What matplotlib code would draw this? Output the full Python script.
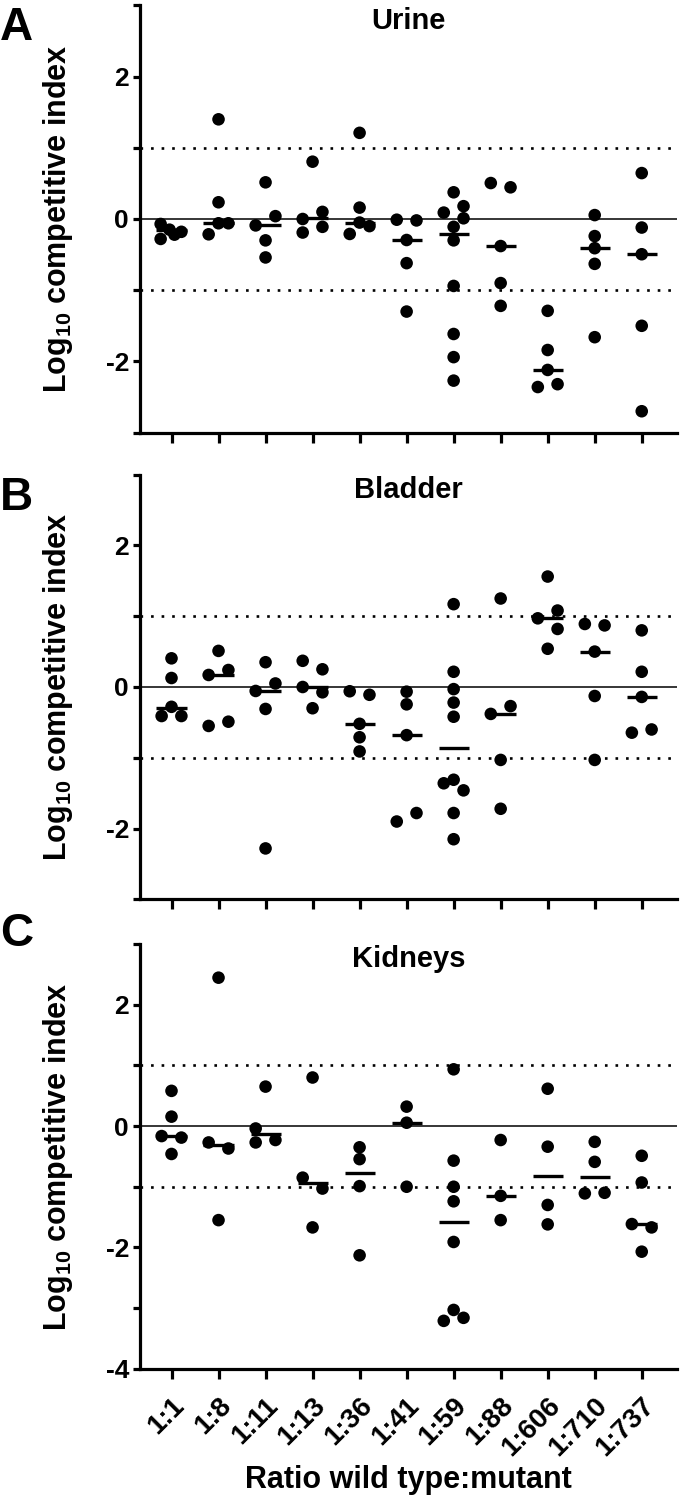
import numpy as np
import matplotlib
matplotlib.use("Agg")
import matplotlib.pyplot as plt

#----Data----

ratios = ["1:1", "1:8", "1:11", "1:13", "1:36", "1:41", "1:59", "1:88", "1:606", "1:710", "1:737"]

urine_vals = [
    [-0.07, -0.28, -0.15, -0.22, -0.18],
    [-0.215, 1.40, 0.235, -0.06, -0.06],
    [-0.09, 0.515, 0.04, -0.30, -0.54],
    [0.0, -0.19, 0.805, 0.10, -0.11],
    [-0.21, 1.21, 0.16, -0.05, -0.10],
    [-0.01, -0.02, -0.295, -0.62, -1.30],
    [0.09, 0.375, 0.18, 0.01, -0.11, -0.30, -0.94, -1.615, -1.94, -2.27],
    [0.505, 0.445, -0.38, -0.90, -1.22],
    [-1.29, -1.84, -2.12, -2.36, -2.32],
    [0.055, -0.24, -0.41, -0.63, -1.66],
    [0.645, -0.12, -0.495, -1.50, -2.70],
]
urine_medians = [-0.16, -0.05, -0.085, 0.01, -0.05, -0.295, -0.205, -0.375, -2.12, -0.41, -0.495]

bladder_vals = [
    [0.405, 0.127, -0.28, -0.41, -0.41],
    [0.51, 0.17, 0.24, -0.55, -0.49],
    [0.35, 0.05, -0.056, -0.31, -2.28],
    [0.37, 0.25, 0.0, -0.075, -0.30],
    [-0.06, -0.11, -0.52, -0.71, -0.91],
    [-0.066, -0.245, -0.68, -1.90, -1.78],
    [1.17, 0.215, -0.03, -0.22, -0.42, -1.36, -1.31, -1.46, -1.78, -2.15],
    [1.25, -0.38, -0.27, -1.03, -1.72],
    [1.56, 1.08, 0.97, 0.82, 0.54],
    [0.89, 0.87, 0.50, -0.127, -1.03],
    [0.80, 0.215, -0.14, -0.645, -0.60],
]
bladder_medians = [-0.29, 0.17, -0.05, 0.0, -0.52, -0.68, -0.865, -0.38, 0.97, 0.50, -0.14]

kidney_vals = [
    [0.58, 0.155, -0.165, -0.19, -0.46],
    [2.445, -0.27, -0.37, -1.55],
    [0.65, -0.04, -0.27, -0.23],
    [0.80, -0.85, -1.03, -1.67],
    [-0.35, -0.545, -0.99, -2.13],
    [0.32, 0.055, -1.0],
    [0.935, -0.57, -1.0, -1.24, -1.91, -3.03, -3.21, -3.16],
    [-0.23, -1.15, -1.55],
    [0.615, -0.34, -1.30, -1.62],
    [-0.26, -0.59, -1.11, -1.10],
    [-0.49, -0.93, -1.615, -1.67, -2.07],
]
kidney_medians = [-0.165, -0.32, -0.135, -0.94, -0.77, 0.055, -1.58, -1.15, -0.82, -0.845, -1.615]

# scatter slot of each point (-1 left, 0 centre, 1 right)
urine_slots = [
    [-1.1, -1.1, -0.2, 0.3, 1], [-1, 0, 0, 0, 1], [-1, 0, 1, 0, 0], [-1, -1, 0, 1, 1],
    [-1, 0, 0, 0, 1], [-1, 1, 0, 0, 0], [-1, 0, 1, 1, 0, 0, 0, 0, 0, 0], [-1, 1, 0, 0, 0],
    [0, 0, 0, -1, 1], [0, 0, 0, 0, 0], [0, 0, 0, 0, 0],
]
bladder_slots = [
    [0, 0, 0, -1, 1], [0, -1, 1, -1, 1], [0, 1, -1, 0, 0], [-1, 1, -1, 1, 0],
    [-1, 1, 0, 0, 0], [0, 0, 0, -1, 1], [0, 0, 0, 0, 0, -1, 0, 1, 0, 0], [0, -1, 1, 0, 0],
    [0, 1, -1, 1, 0], [-1, 1, 0, 0, 0], [0, 0, 0, -1, 1],
]
kidney_slots = [
    [0, 0, -1, 1, 0], [0, -1, 1, 0], [0, -1, -1, 1], [0, -1, 1, 0],
    [0, 0, 0, 0], [0, 0, 0], [0, 0, 0, 0, 0, 0, -1, 1], [0, 0, 0],
    [0, 0, 0, 0], [0, 0, -1, 1], [0, 0, -1, 1, 0],
]

#----Style----

plt.rcParams["font.family"] = ["Liberation Sans", "DejaVu Sans"]
plt.rcParams["font.weight"] = "bold"
plt.rcParams["mathtext.fontset"] = "custom"
plt.rcParams["mathtext.bf"] = "Liberation Sans:bold"
plt.rcParams["mathtext.rm"] = "Liberation Sans:bold"
plt.rcParams["mathtext.default"] = "bf"

W, H = 680, 1495
fig = plt.figure(figsize=(W / 100, H / 100), dpi=100)

x_left, x_right = 140, 677
# letter, title, values, slots, medians, top px, bottom px, y min, letter baseline px
panels = [
    ("A", "Urine", urine_vals, urine_slots, urine_medians, 5.4, 432.6, -3, 40),
    ("B", "Bladder", bladder_vals, bladder_slots, bladder_medians, 474.6, 899.4, -3, 510),
    ("C", "Kidneys", kidney_vals, kidney_slots, kidney_medians, 944.0, 1368.8, -4, 946),
]

spread = 0.21
x = np.arange(len(ratios))

for letter, title, vals, slots, meds, top, bottom, ymin, lbase in panels:
    ax = fig.add_axes([x_left / W, 1 - bottom / H, (x_right - x_left) / W, (bottom - top) / H])
    ax.set_xlim(-0.67, 10.75)
    ax.set_ylim(ymin, 3)

    ax.axhline(0, color="black", lw=1.1, zorder=1)
    for ref in (1, -1):
        ax.axhline(ref, color="black", lw=1.9, linestyle=(0, (1, 3)), zorder=1)

    for k in range(len(ratios)):
        xs = x[k] + spread * np.array(slots[k])
        ax.scatter(xs, vals[k], s=82, color="black", edgecolors="none", zorder=3)
    ax.hlines(meds, x - 0.32, x + 0.32, color="black", lw=2.4, zorder=4)

    for side in ("top", "right"):
        ax.spines[side].set_visible(False)
    for side in ("left", "bottom"):
        ax.spines[side].set_linewidth(2.3)

    yt = np.arange(ymin, 4)
    ax.set_yticks(yt)
    ax.set_yticklabels([str(v) if v % 2 == 0 else "" for v in yt], fontsize=19, fontweight="bold")
    ax.tick_params(axis="y", length=5, width=2.3, pad=3)
    ax.set_xticks(x)
    ax.tick_params(axis="x", length=7, width=2.3, pad=10)
    if letter == "C":
        ax.set_xticklabels(ratios, fontsize=20, fontweight="bold")
        plt.setp(ax.get_xticklabels(), rotation=45, ha="right", rotation_mode="anchor")
    else:
        ax.set_xticklabels([])

    ax.text(0.5, 0.945, title, transform=ax.transAxes, ha="center", va="baseline",
            fontsize=21, fontweight="bold")
    fig.text(0.0, 1 - lbase / H, letter, ha="left", va="baseline",
             fontsize=33, fontweight="bold")
    fig.text(58 / W, 1 - ((top + bottom) / 2) / H, r"Log$_{10}$ competitive index",
             rotation=90, ha="center", va="center", fontsize=22, fontweight="bold")

fig.text(408 / W, 1 - 1488 / H, "Ratio wild type:mutant", ha="center", va="baseline",
         fontsize=22, fontweight="bold")

fig.savefig("out.png", dpi=100)
